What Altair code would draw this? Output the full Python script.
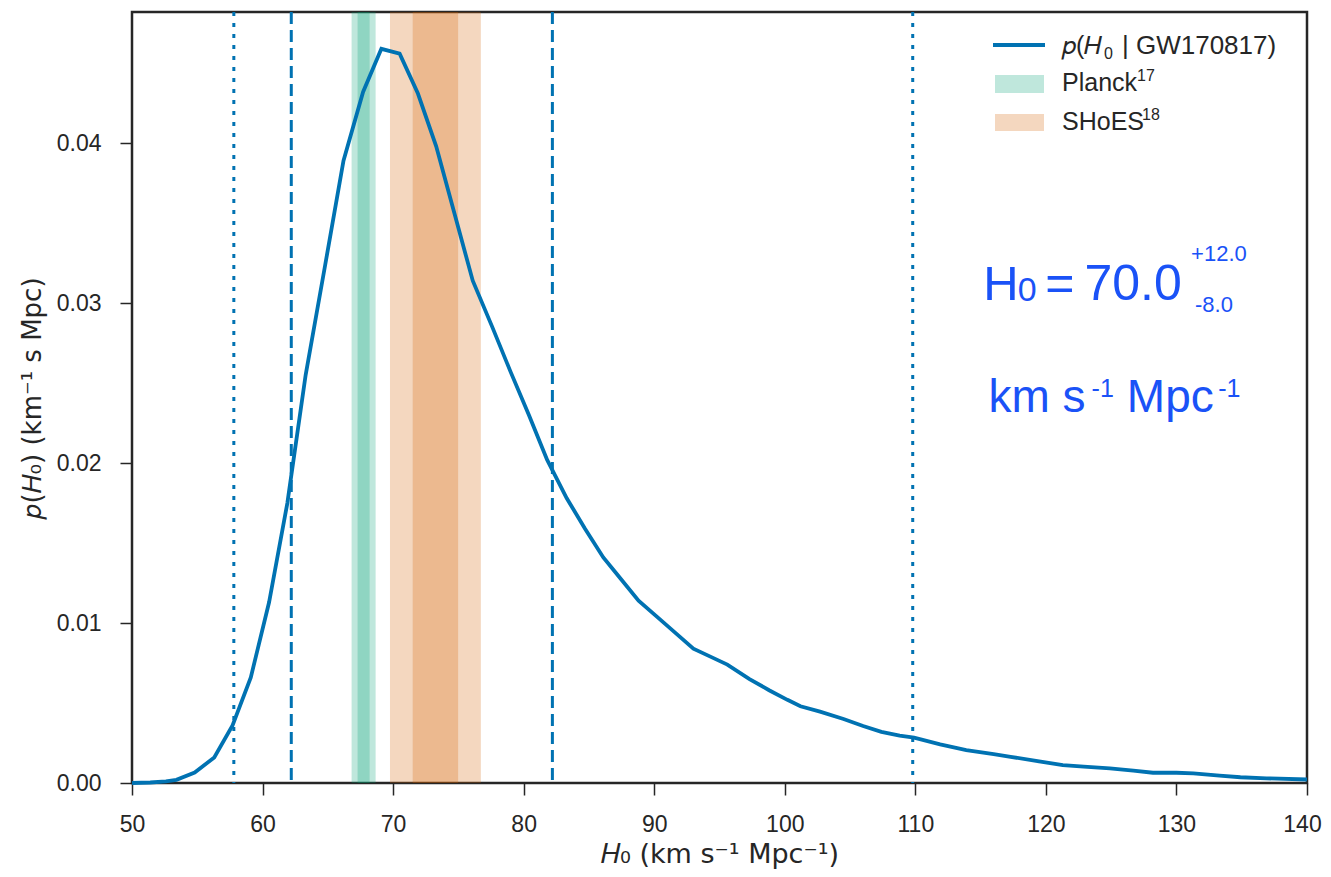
import altair as alt
import pandas as pd

# ---- data ----
h0 = [50.0, 51.4, 52.6, 53.4, 54.8, 56.3, 57.7, 59.1, 60.5, 61.9, 63.3, 64.8, 66.2, 67.7, 69.1,
      70.5, 71.9, 73.3, 74.7, 76.1, 77.6, 79.0, 80.4, 81.8, 83.3, 84.7, 86.1, 87.4, 88.8, 90.2,
      91.6, 93.0, 94.3, 95.6, 97.3, 98.8, 100.2, 101.2, 102.7, 104.5, 106.0, 107.4, 108.8, 109.9,
      111.9, 113.9, 116.0, 117.3, 119.6, 121.3, 122.9, 124.9, 126.7, 128.2, 130.0, 131.3, 133.3,
      134.9, 136.9, 140.0]
p_h0 = [0.0, 0.00003, 0.0001, 0.0002, 0.00065, 0.0016, 0.0036, 0.0066, 0.0113, 0.0175, 0.0255,
        0.0324, 0.0389, 0.0432, 0.0459, 0.0456, 0.0431, 0.0398, 0.0356, 0.0314, 0.0285, 0.0257,
        0.0230, 0.0202, 0.0178, 0.0159, 0.0141, 0.0128, 0.0114, 0.0104, 0.0094, 0.0084, 0.0079,
        0.0074, 0.0065, 0.0058, 0.0052, 0.0048, 0.00446, 0.0040, 0.00356, 0.0032, 0.00296,
        0.00283, 0.00242, 0.00206, 0.00181, 0.00164, 0.00133, 0.00112, 0.00102, 0.00092,
        0.00077, 0.00064, 0.00064, 0.0006, 0.00046, 0.00036, 0.00029, 0.00022]

band_lo = [66.82, 67.28, 69.76, 71.50]
band_hi = [68.66, 68.20, 76.72, 74.98]
band_col = ["#009E73", "#009E73", "#D55E00", "#D55E00"]

dashed_x = [62.2, 82.2]
dotted_x = [57.8, 109.8]

x_ticks = [50, 60, 70, 80, 90, 100, 110, 120, 130, 140]
y_ticks = [0.0, 0.01, 0.02, 0.03, 0.04]

# legend text pieces (pixel positions inside the plot area)
leg_text = ["\U0001D45D(\U0001D43B", "0", "| GW170817)", "Planck", "17", "SHoES", "18"]
leg_tx = [930, 972, 990, 930, 1005, 930, 1010]
leg_ty = [42, 47, 42, 79, 69, 118, 108]
leg_ts = [25, 16, 26, 25, 16, 25, 16]

# annotation pieces (data coordinates)
ann_text = ["H", "0", "=", "70.0", "+12.0", "-8.0", "km s", "-1", "Mpc", "-1"]
ann_x = [115.2, 117.85, 119.95, 122.95, 131.12, 131.42, 115.6, 123.5, 126.2, 133.2]
ann_y = [0.03019, 0.03015, 0.03019, 0.03019, 0.03264, 0.02946, 0.02321, 0.02414, 0.02321, 0.02414]
ann_size = [49, 34, 50, 50, 22, 22, 46, 25, 46, 25]

# ---- build ----
W, H = 1175, 771
BLUE = "#0072B2"
INK = "#262626"
FONT = "Liberation Sans"
TFONT = "DejaVu Sans"

xs = alt.Scale(domain=[50, 140], nice=False, zero=False)
ys = alt.Scale(domain=[0, 0.0482], nice=False, zero=True)
x_axis = alt.Axis(values=x_ticks, format="d", labelFlush=False, labelOverlap=False,
                  labelOffset={"condition": {"test": "datum.value === 140", "value": -5}, "value": 0},
                  title="\U0001D43B\u2080 (km s\u207b\u00b9 Mpc\u207b\u00b9)",
                  titleY=71, titleBaseline="middle", titleFontSize=27)
y_axis = alt.Axis(values=y_ticks, format=".2f", labelFlush=False, labelOverlap=False,
                  title="\U0001D45D(\U0001D43B\u2080) (km\u207b\u00b9 s Mpc)",
                  titleX=-100, titleBaseline="middle", titleFontSize=26)

curve = pd.DataFrame({"h0": h0, "p": p_h0})
bands = pd.DataFrame({"lo": band_lo, "hi": band_hi, "col": band_col})
dashed = pd.DataFrame({"x": dashed_x})
dotted = pd.DataFrame({"x": dotted_x})
ann = pd.DataFrame({"t": ann_text, "x": ann_x, "y": ann_y, "s": ann_size})
legt = pd.DataFrame({"t": leg_text, "x": leg_tx, "y": leg_ty, "s": leg_ts})

band_layer = alt.Chart(bands).mark_rect(opacity=0.25).encode(
    x=alt.X("lo:Q", scale=xs, axis=x_axis),
    x2="hi:Q",
    y=alt.value(0),
    y2=alt.value(H),
    color=alt.Color("col:N", scale=None),
)

dashed_layer = alt.Chart(dashed).mark_rule(color=BLUE, strokeWidth=3, strokeDash=[12, 6]).encode(
    x=alt.X("x:Q", scale=xs, axis=x_axis), y=alt.value(0), y2=alt.value(H)
)
dotted_layer = alt.Chart(dotted).mark_rule(color=BLUE, strokeWidth=3, strokeDash=[4, 7]).encode(
    x=alt.X("x:Q", scale=xs, axis=x_axis), y=alt.value(0), y2=alt.value(H)
)

line_layer = alt.Chart(curve).mark_line(color=BLUE, strokeWidth=3.8).encode(
    x=alt.X("h0:Q", scale=xs, axis=x_axis),
    y=alt.Y("p:Q", scale=ys, axis=y_axis),
)

ann_layer = alt.Chart(ann).mark_text(align="left", baseline="alphabetic", color="#1a52f7",
                                     font=FONT).encode(
    x=alt.X("x:Q", scale=xs, axis=x_axis),
    y=alt.Y("y:Q", scale=ys, axis=y_axis),
    text="t:N",
    size=alt.Size("s:Q", scale=None),
)

one = pd.DataFrame({"k": [0]})
leg_line = alt.Chart(one).mark_rule(color=BLUE, strokeWidth=3.8).encode(
    x=alt.value(861), x2=alt.value(913), y=alt.value(33)
)
leg_planck = alt.Chart(one).mark_rect(color="#009E73", opacity=0.25).encode(
    x=alt.value(863), x2=alt.value(912), y=alt.value(63), y2=alt.value(81)
)
leg_shoes = alt.Chart(one).mark_rect(color="#D55E00", opacity=0.25).encode(
    x=alt.value(863), x2=alt.value(912), y=alt.value(102), y2=alt.value(119)
)
leg_labels = alt.Chart(legt).mark_text(align="left", baseline="alphabetic", color=INK,
                                       font=FONT).encode(
    x=alt.X("x:Q", scale=None),
    y=alt.Y("y:Q", scale=None),
    text="t:N",
    size=alt.Size("s:Q", scale=None),
)

chart = alt.layer(
    band_layer, dashed_layer, dotted_layer, line_layer, ann_layer,
    leg_line, leg_planck, leg_shoes, leg_labels
).properties(
    width=W, height=H,
    autosize=alt.AutoSizeParams(type="none"),
    padding={"left": 124, "top": 4, "right": 16, "bottom": 86},
).configure_view(
    stroke=INK, strokeWidth=2.5
).configure_axis(
    grid=False, domain=False, ticks=True, tickColor=INK, tickWidth=1.5, tickSize=12,
    labelFont=FONT, labelFontSize=23, labelColor=INK,
    titleFont=TFONT, titleColor=INK, titleFontWeight="normal",
).configure_axisX(labelPadding=18).configure_axisY(labelPadding=19)

chart.save("out.html", embed_options={"renderer": "svg", "actions": False})
